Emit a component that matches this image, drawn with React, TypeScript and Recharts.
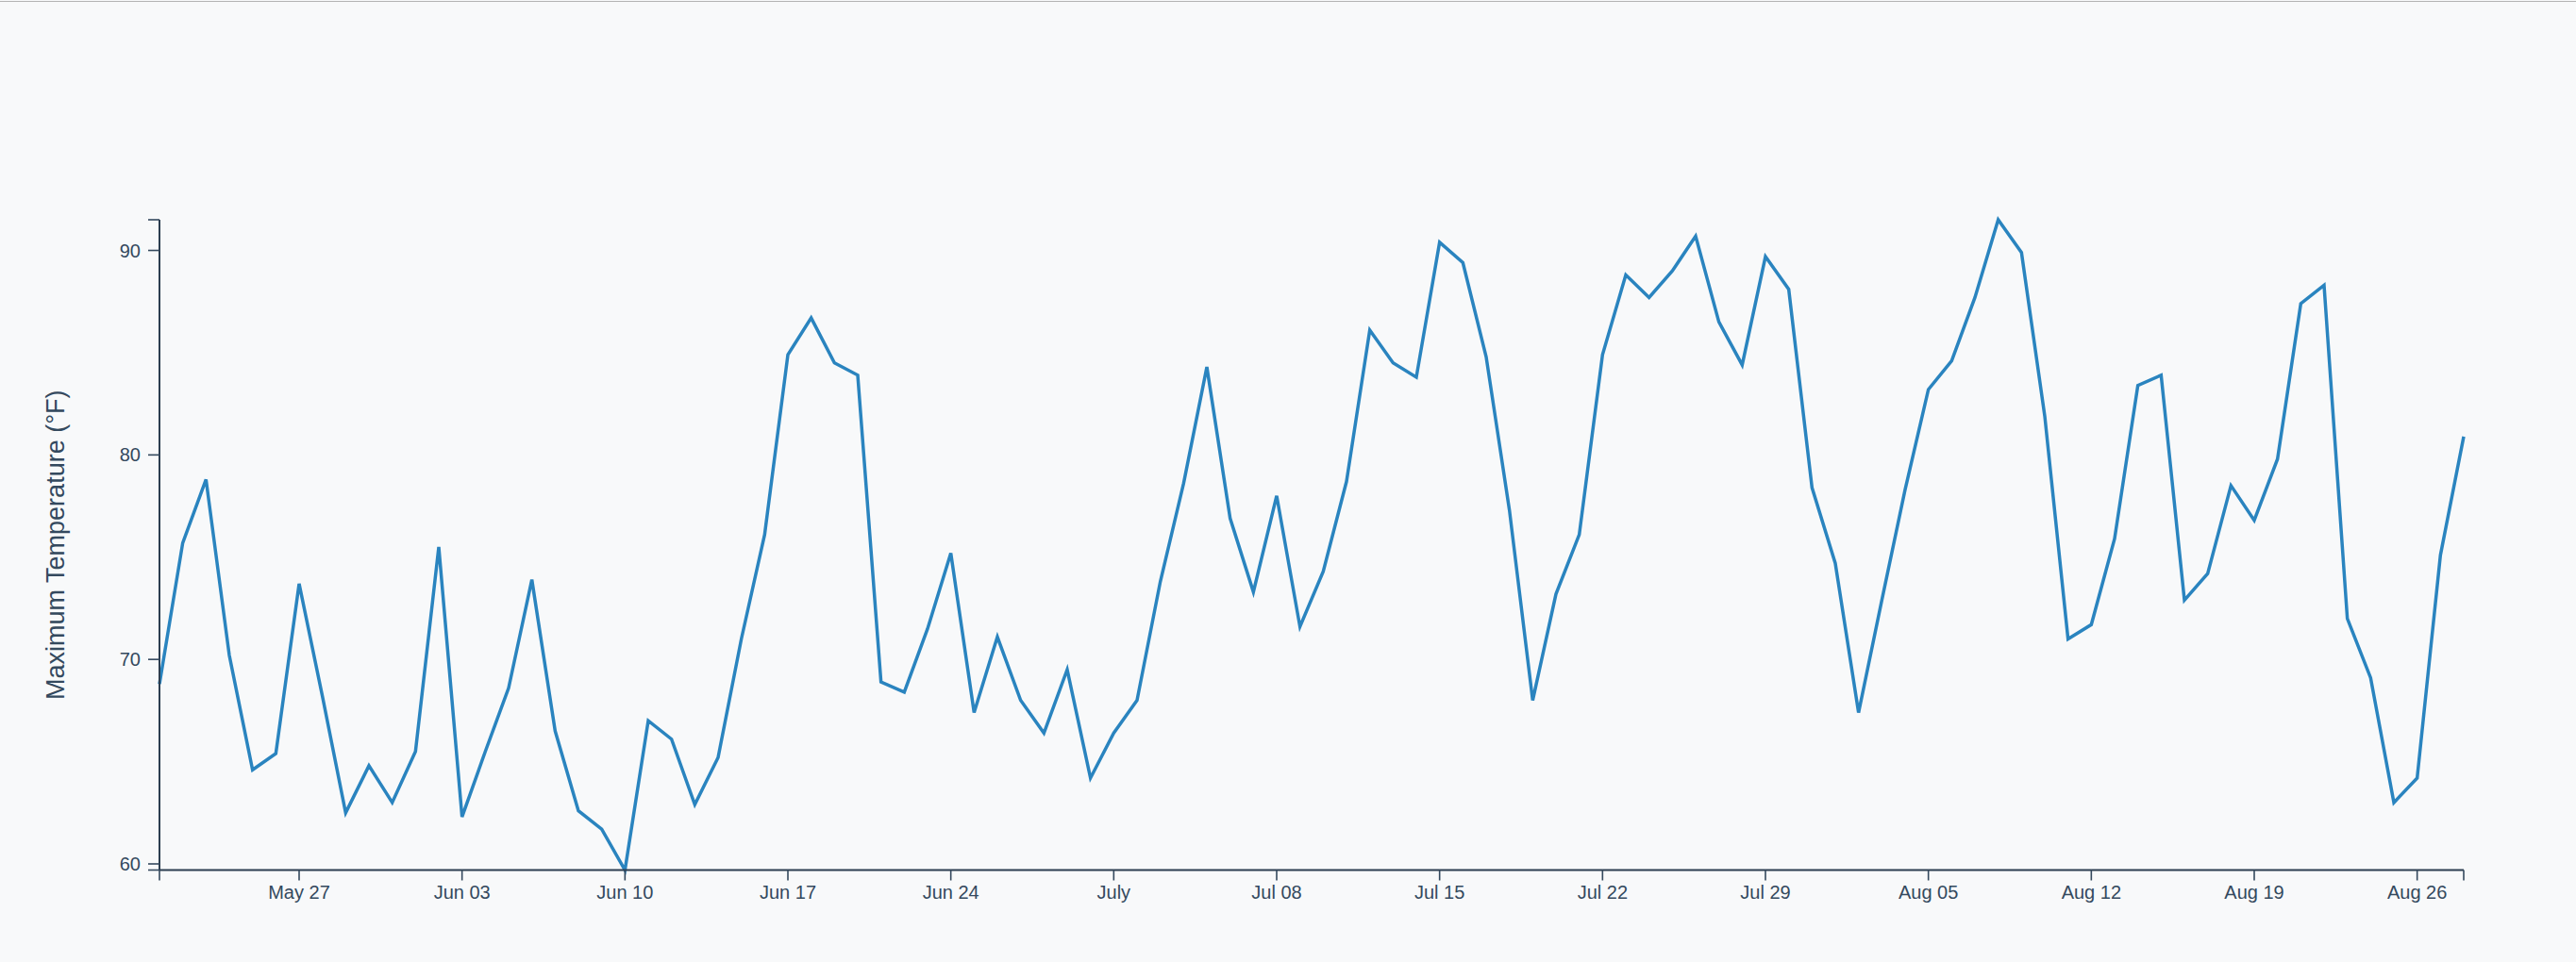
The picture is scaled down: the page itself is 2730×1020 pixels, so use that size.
import { LineChart, Line, XAxis, YAxis } from "recharts";

const START = Date.UTC(2018, 4, 21);
const DAY = 86400000;

// daily max temperature, May 21 – Aug 28
const temps = [
  68.8, 75.7, 78.8, 70.2, 64.6, 65.4, 73.7, 68.2, 62.5, 64.8,
  63.0, 65.5, 75.5, 62.3, 65.5, 68.6, 73.9, 66.5, 62.6, 61.7,
  59.7, 67.0, 66.1, 62.9, 65.2, 71.0, 76.1, 84.9, 86.7, 84.5,
  83.9, 68.9, 68.4, 71.5, 75.2, 67.4, 71.1, 68.0, 66.4, 69.5,
  64.2, 66.4, 68.0, 73.8, 78.6, 84.3, 76.9, 73.3, 78.0, 71.6,
  74.3, 78.7, 86.1, 84.5, 83.8, 90.4, 89.4, 84.8, 77.3, 68.0,
  73.2, 76.1, 84.9, 88.8, 87.7, 89.0, 90.7, 86.5, 84.4, 89.7,
  88.1, 78.4, 74.7, 67.4, 72.9, 78.3, 83.2, 84.6, 87.7, 91.5,
  89.9, 81.9, 71.0, 71.7, 75.9, 83.4, 83.9, 72.9, 74.2, 78.5,
  76.8, 79.8, 87.4, 88.3, 72.0, 69.1, 63.0, 64.2, 75.1, 80.9,
];

const tickDays = [6, 13, 20, 27, 34, 41, 48, 55, 62, 69, 76, 83, 90, 97];
const tickLabels = [
  "May 27", "Jun 03", "Jun 10", "Jun 17", "Jun 24", "July", "Jul 08",
  "Jul 15", "Jul 22", "Jul 29", "Aug 05", "Aug 12", "Aug 19", "Aug 26",
];
const yTicks = [60, 70, 80, 90];

const data = temps.map((v, i) => ({ t: START + i * DAY, temp: v }));

const firstT = data[0].t;
const lastT = data[data.length - 1].t;
const minV = Math.min(...temps);
const maxV = Math.max(...temps);

const labelByT: Record<number, string> = {};
tickDays.forEach((d, i) => (labelByT[START + d * DAY] = tickLabels[i]));

const AXIS = "#2c3e50";
const TEXT = "#34495e";
const FONT = "'Liberation Sans', Arial, Helvetica, sans-serif";

function YLabel(props: any) {
  const vb = props.viewBox || { x: 0, y: 0, height: 0 };
  const cx = vb.x + 58.5;
  const cy = vb.y + vb.height / 2;
  return (
    <text
      x={cx}
      y={cy}
      transform={`rotate(-90, ${cx}, ${cy})`}
      textAnchor="middle"
      dominantBaseline="central"
      fill={TEXT}
      fontSize={27}
      fontFamily={FONT}
    >
      Maximum Temperature (°F)
    </text>
  );
}

export default function App() {
  return (
    <div
      style={{
        position: "absolute",
        left: 0,
        top: 0,
        width: 2730,
        height: 1020,
        background: "#f8f9fa",
        overflow: "hidden",
      }}
    >
      <div style={{ position: "absolute", left: 0, top: 1, width: 2730, height: 1, background: "#b4b4b4" }} />
      <LineChart
        width={2730}
        height={1020}
        data={data}
        margin={{ top: 233, right: 119, left: 0, bottom: 37.5 }}
      >
        <XAxis
          dataKey="t"
          type="number"
          domain={[firstT, lastT]}
          ticks={[firstT, ...tickDays.map((d) => START + d * DAY), lastT]}
          interval={0}
          tickFormatter={(v) => labelByT[v] ?? ""}
          height={60}
          tickSize={11}
          tickMargin={5}
          axisLine={{ stroke: AXIS, strokeWidth: 2 }}
          tickLine={{ stroke: TEXT, strokeWidth: 1.6 }}
          tick={{ fill: TEXT, fontSize: 20, fontFamily: FONT }}
        />
        <YAxis
          type="number"
          domain={[minV, maxV]}
          ticks={[minV, ...yTicks, maxV]}
          interval={0}
          tickFormatter={(v) => (yTicks.includes(v) ? String(v) : "")}
          width={169}
          tickSize={12}
          tickMargin={8}
          axisLine={{ stroke: AXIS, strokeWidth: 2 }}
          tickLine={{ stroke: TEXT, strokeWidth: 1.6 }}
          tick={{ fill: TEXT, fontSize: 20, fontFamily: FONT }}
          label={{ content: YLabel }}
        />
        <Line
          type="linear"
          dataKey="temp"
          stroke="#2a84bf"
          strokeWidth={3.5}
          dot={false}
          activeDot={false}
          isAnimationActive={false}
        />
      </LineChart>
    </div>
  );
}
